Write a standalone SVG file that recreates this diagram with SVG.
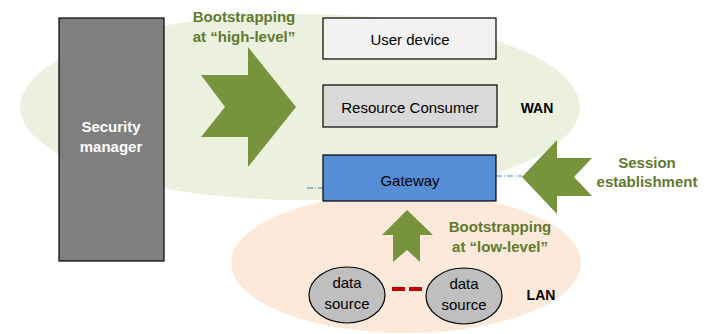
<svg xmlns="http://www.w3.org/2000/svg" width="706" height="334" viewBox="0 0 706 334">
  <style>
    text { font-family: "Liberation Sans", Arial, sans-serif; text-anchor: middle; }
    .box { stroke: #000; stroke-width: 1.2; }
    .lbl { font-size: 15px; fill: #000; }
    .note { font-size: 15px; font-weight: bold; fill: #5f7a2e; }
    .zone { font-size: 14px; font-weight: bold; fill: #000; }
    .arrow { fill: #77933c; }
    .link { stroke: #4a7ebb; stroke-width: 1; stroke-dasharray: 6 2 1 2; fill: none; }
  </style>

  <!-- network areas -->
  <g id="wan-area">
    <ellipse cx="300" cy="107" rx="280" ry="93" fill="#ebf1de"/>
  </g>
  <g id="lan-area">
    <ellipse cx="406" cy="263" rx="175" ry="70" fill="#fde9d9"/>
  </g>

  <!-- connectors -->
  <g id="connectors">
    <line class="link" x1="307" y1="188" x2="323" y2="188"/>
    <line class="link" x1="496" y1="176" x2="522" y2="176"/>
    <line x1="392" y1="289" x2="422" y2="289" stroke="#c00000" stroke-width="4" stroke-dasharray="13 4"/>
  </g>

  <g id="security-manager">
    <rect class="box" x="59" y="18" width="105" height="243" fill="#7f7f7f"/>
    <text x="111" y="132" font-size="15" font-weight="bold" fill="#fff">Security</text>
    <text x="111" y="152" font-size="15" font-weight="bold" fill="#fff">manager</text>
  </g>

  <g id="user-device">
    <rect class="box" x="323" y="18" width="173" height="41" fill="#f2f2f2"/>
    <text class="lbl" x="410" y="45">User device</text>
  </g>

  <g id="resource-consumer">
    <rect class="box" x="323" y="85" width="174" height="42" fill="#d9d9d9"/>
    <text class="lbl" x="410" y="113">Resource Consumer</text>
  </g>

  <g id="gateway">
    <rect class="box" x="323" y="155" width="173" height="46" fill="#558ed5"/>
    <text class="lbl" x="410" y="186">Gateway</text>
  </g>

  <g id="data-source-1">
    <ellipse class="box" cx="347" cy="295" rx="38" ry="28" fill="#bfbfbf"/>
    <text class="lbl" x="347" y="288">data</text>
    <text class="lbl" x="347" y="309">source</text>
  </g>

  <g id="data-source-2">
    <ellipse class="box" cx="464" cy="296" rx="38" ry="28" fill="#bfbfbf"/>
    <text class="lbl" x="464" y="289">data</text>
    <text class="lbl" x="464" y="310">source</text>
  </g>

  <!-- bootstrapping and session arrows -->
  <g id="high-level-bootstrap">
    <polygon class="arrow" points="201,75 248,75 248,47 296,107 248,167 248,137 201,137 225,107"/>
    <text class="note" x="244" y="22">Bootstrapping</text>
    <text class="note" x="244" y="42">at “high-level”</text>
  </g>

  <g id="session-establishment">
    <polygon class="arrow" points="522,177 557,140 557,158 592,158 574,177 592,196 557,196 557,214"/>
    <text class="note" x="647" y="168" font-size="14">Session</text>
    <text class="note" x="647" y="187" font-size="14">establishment</text>
  </g>

  <g id="low-level-bootstrap">
    <polygon class="arrow" points="407,210 433,235 420,235 420,262 407,250 393,262 393,235 382,235"/>
    <text class="note" x="500" y="232">Bootstrapping</text>
    <text class="note" x="500" y="252">at “low-level”</text>
  </g>

  <g id="zone-labels">
    <text class="zone" x="537" y="113">WAN</text>
    <text class="zone" x="541" y="300">LAN</text>
  </g>
</svg>
